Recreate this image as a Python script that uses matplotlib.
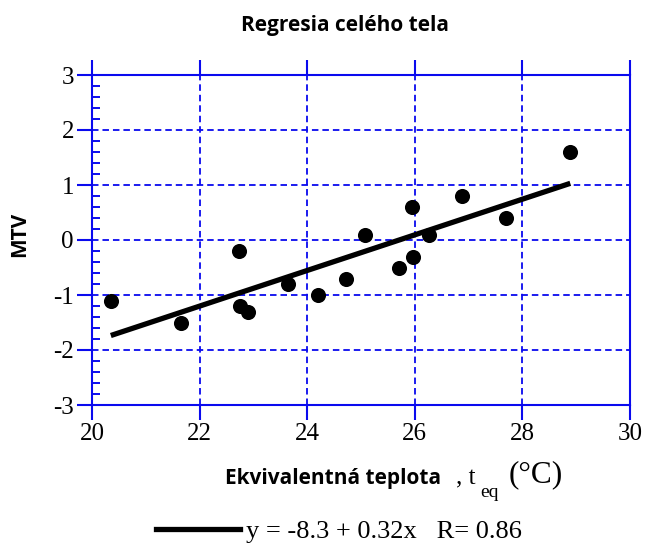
import numpy as np
import matplotlib
matplotlib.use("Agg")
import matplotlib.pyplot as plt
from matplotlib.ticker import MultipleLocator

plt.rcParams["axes.unicode_minus"] = False

# Data
teq = [20.35, 21.65, 22.73, 22.76, 22.90, 23.64, 24.21, 24.73, 25.08,
       25.71, 25.94, 25.96, 26.27, 26.88, 27.70, 28.89]
mtv = [-1.1, -1.5, -0.2, -1.2, -1.3, -0.8, -1.0, -0.7, 0.1,
       -0.5, 0.6, -0.3, 0.1, 0.8, 0.4, 1.6]
intercept, slope = -8.33, 0.324
x_ticks = [20, 22, 24, 26, 28, 30]
y_ticks = [-3, -2, -1, 0, 1, 2, 3]
title = "Regresia celého tela"
ylabel = "MTV"
legend_text = "y = -8.3 + 0.32x   R= 0.86"

W, H = 645, 545
blue = "#0a0aee"
fig = plt.figure(figsize=(W/100, H/100), dpi=100)
ax = fig.add_axes([92/W, 1-405/H, (630-92)/W, (405-75)/H])

ax.scatter(teq, mtv, s=118, color="black", zorder=5, linewidths=0)
xl = np.array([min(teq), max(teq)])
ax.plot(xl, intercept + slope*xl, color="black", lw=3.8, solid_capstyle="butt", zorder=4)

ax.set_xlim(20, 30)
ax.set_ylim(-3, 3)
ax.set_xticks(x_ticks)
ax.set_yticks(y_ticks)
ax.yaxis.set_minor_locator(MultipleLocator(0.2))
for s in ax.spines.values():
    s.set_color(blue)
    s.set_linewidth(1.5)
ax.grid(True, which="major", color=blue, linestyle=(0, (3.6, 2.2)), lw=1.3)
ax.tick_params(which="major", direction="out", length=11, width=1.5, color=blue,
               top=True, right=False, labelsize=18)
ax.tick_params(axis="x", which="major", pad=2)
ax.tick_params(axis="y", which="major", pad=2)
ax.tick_params(which="minor", axis="y", direction="in", length=6, width=1.4, color=blue, left=True)
for lab in ax.get_xticklabels() + ax.get_yticklabels():
    lab.set_family("Liberation Serif")

fig.text(345/W, 1-26/H, title, ha="center", va="center",
         fontfamily="Open Sans", fontweight="bold", fontsize=15)
fig.text(20/W, 1-234/H, ylabel, ha="center", va="center", rotation=90,
         fontfamily="Open Sans", fontweight="bold", fontsize=15)

# x label composed
fig.text(441/W, 1-484/H, "Ekvivalentná teplota", ha="right", va="baseline",
         fontfamily="Open Sans", fontweight="bold", fontsize=15)
fig.text(456/W, 1-484/H, ", t", ha="left", va="baseline",
         fontfamily="Liberation Serif", fontsize=18)
fig.text(480/W, 1-497/H, "eq", ha="left", va="baseline",
         fontfamily="Liberation Serif", fontsize=14)
fig.text(509/W, 1-482/H, "(°C)", ha="left", va="baseline",
         fontfamily="Liberation Serif", fontsize=22.5)

# legend
fig.add_artist(plt.Line2D([156/W, 240/W], [1-529/H, 1-529/H], color="black", lw=3.8,
                          transform=fig.transFigure))
fig.text(246/W, 1-538/H, legend_text, ha="left", va="baseline",
         fontfamily="Liberation Serif", fontsize=19)

fig.savefig("out.png", dpi=100)
